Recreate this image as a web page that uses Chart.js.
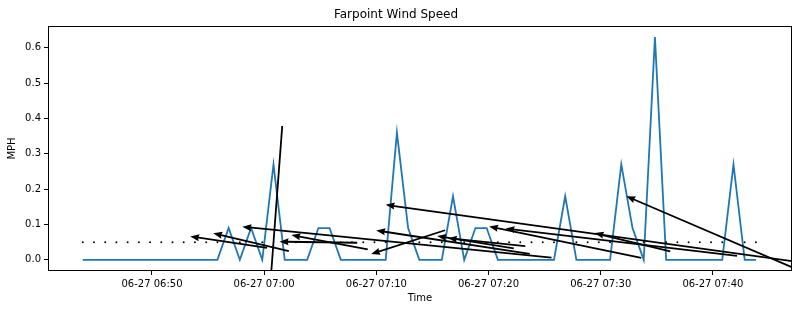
<!DOCTYPE html>
<html>
<head>
<meta charset="utf-8">
<script src="https://cdn.jsdelivr.net/npm/chart.js@4/dist/chart.umd.min.js"></script>
<style>
  body { margin: 0; background: #fff; }
</style>
</head>
<body>
<canvas id="myChart" width="799" height="311"></canvas>
<script>
// one reading a minute, 06-27
const times = [
    '06:43:50', '06:44:50', '06:45:50', '06:46:50', '06:47:50', '06:48:50', '06:49:50', '06:50:50',
    '06:51:50', '06:52:50', '06:53:50', '06:54:50', '06:55:50', '06:56:50', '06:57:50', '06:58:50',
    '06:59:50', '07:00:50', '07:01:50', '07:02:50', '07:03:50', '07:04:50', '07:05:50', '07:06:50',
    '07:07:50', '07:08:50', '07:09:50', '07:10:50', '07:11:50', '07:12:50', '07:13:50', '07:14:50',
    '07:15:50', '07:16:50', '07:17:50', '07:18:50', '07:19:50', '07:20:50', '07:21:50', '07:22:50',
    '07:23:50', '07:24:50', '07:25:50', '07:26:50', '07:27:50', '07:28:50', '07:29:50', '07:30:50',
    '07:31:50', '07:32:50', '07:33:50', '07:34:50', '07:35:50', '07:36:50', '07:37:50', '07:38:50',
    '07:39:50', '07:40:50', '07:41:50', '07:42:50', '07:43:50'
];

const windSpeed = [
    0, 0, 0, 0, 0, 0, 0, 0,
    0, 0, 0, 0, 0, 0.09, 0, 0.09,
    0, 0.27, 0, 0, 0, 0.09, 0.09, 0,
    0, 0, 0, 0, 0.36, 0.09, 0, 0,
    0, 0.18, 0, 0.09, 0.09, 0, 0, 0,
    0, 0, 0, 0.18, 0, 0, 0, 0,
    0.27, 0.09, 0, 0.63, 0, 0, 0, 0,
    0, 0, 0.27, 0, 0
];

// arrow direction in degrees (counter-clockwise from east), null when calm
const windDir = [
    null, null, null, null, null, null, null, null,
    null, null, null, null, null, 171.5, null, 166.6,
    null, 265.7, null, null, null, 179.2, 169.4, null,
    null, null, null, null, 174.3, 197.9, null, null,
    null, 171.3, null, 170.7, 174.2, null, null, null,
    null, null, null, 168.3, null, null, null, null,
    173.3, 166.5, null, 172.1, null, null, null, null,
    null, null, 156.8, null, null
];

const arrowLevel = 0.05;
const xTicks = ['06:50', '07:00', '07:10', '07:20', '07:30', '07:40'];
const yTicks = [0, 0.1, 0.2, 0.3, 0.4, 0.5, 0.6];

function toMin(t) {
    let p = t.split(':').map(Number);
    return (p[0] - 6) * 60 + p[1] + (p[2] || 0) / 60;
}

const font = { family: 'DejaVu Sans', size: 10 };

// quiver-like arrows, centred on each reading
const quiver = {
    id: 'quiver',
    afterDatasetsDraw(chart) {
        let ctx = chart.ctx;
        let area = chart.chartArea;
        let xs = chart.scales.x;
        let ys = chart.scales.y;
        ctx.save();
        ctx.beginPath();
        ctx.rect(area.left, area.top, area.right - area.left, area.bottom - area.top);
        ctx.clip();
        ctx.fillStyle = '#000';
        ctx.strokeStyle = '#000';
        times.forEach((t, i) => {
            let cx = xs.getPixelForValue(toMin(t));
            let cy = ys.getPixelForValue(arrowLevel);
            if (!windSpeed[i] || windDir[i] === null) {
                ctx.beginPath();
                ctx.arc(cx, cy, 0.95, 0, Math.PI * 2);
                ctx.fill();
                return;
            }
            let len = windSpeed[i] * 1.16 * area.width;
            let a = windDir[i] * Math.PI / 180;
            let ux = Math.cos(a), uy = -Math.sin(a);
            let tipX = cx + ux * len / 2, tipY = cy + uy * len / 2;
            let tailX = cx - ux * len / 2, tailY = cy - uy * len / 2;
            let headLen = 9, headW = 3.5;
            let bx = tipX - ux * headLen, by = tipY - uy * headLen;
            ctx.lineWidth = 1.8;
            ctx.beginPath();
            ctx.moveTo(tailX, tailY);
            ctx.lineTo(bx + ux * 2, by + uy * 2);
            ctx.stroke();
            ctx.beginPath();
            ctx.moveTo(tipX, tipY);
            ctx.lineTo(bx - uy * headW, by + ux * headW);
            ctx.lineTo(bx + ux * 1, by + uy * 1);
            ctx.lineTo(bx + uy * headW, by - ux * headW);
            ctx.closePath();
            ctx.fill();
        });
        ctx.restore();
    },
    afterDraw(chart) {
        // axes frame on all four sides
        let ctx = chart.ctx;
        let a = chart.chartArea;
        ctx.save();
        ctx.strokeStyle = '#000';
        ctx.lineWidth = 1;
        ctx.strokeRect(Math.round(a.left) + 0.5, Math.round(a.top) + 0.5,
            Math.round(a.right - a.left) - 1, Math.round(a.bottom - a.top) - 1);
        ctx.restore();
    }
};

let ctx = document.getElementById('myChart').getContext('2d');
let chart = new Chart(ctx, {
    type: 'line',
    data: {
        datasets: [{
            label: 'Wind Speed',
            data: times.map((t, i) => ({ x: toMin(t), y: windSpeed[i] })),
            borderColor: '#1f77b4',
            backgroundColor: '#1f77b4',
            borderWidth: 1.8,
            pointRadius: 0,
            tension: 0,
            fill: false
        }]
    },
    options: {
        responsive: false,
        animation: false,
        layout: { padding: { left: 0, right: 7, top: 2, bottom: 0 } },
        plugins: {
            legend: { display: false },
            tooltip: { enabled: false },
            title: {
                display: true,
                text: 'Farpoint Wind Speed',
                color: '#000',
                font: { family: 'DejaVu Sans', size: 12, weight: 'normal' },
                padding: { top: 6, bottom: 3.6 }
            }
        },
        scales: {
            x: {
                type: 'linear',
                min: toMin('06:40:44'),
                max: toMin('07:47:03'),
                afterBuildTicks: s => { s.ticks = xTicks.map(t => ({ value: toMin(t) })); },
                afterFit: s => { s.height = 40; },
                ticks: {
                    color: '#000',
                    font: font,
                    padding: 3,
                    maxRotation: 0,
                    callback: (v, i) => '06-27 ' + xTicks[i]
                },
                grid: { drawOnChartArea: false, drawTicks: true, tickLength: 4, color: '#000' },
                border: { display: false },
                title: { display: true, text: 'Time', color: '#000', font: font, padding: { top: 0, bottom: 7 } }
            },
            y: {
                min: -0.0315,
                max: 0.6615,
                afterBuildTicks: s => { s.ticks = yTicks.map(v => ({ value: v })); },
                afterFit: s => { s.width = 48; },
                ticks: {
                    color: '#000',
                    font: font,
                    padding: 3,
                    callback: v => v.toFixed(1)
                },
                grid: { drawOnChartArea: false, drawTicks: true, tickLength: 4, color: '#000' },
                border: { display: false },
                title: { display: true, text: 'MPH', color: '#000', font: font, padding: { top: 6, bottom: 0 } }
            }
        }
    },
    plugins: [quiver]
});
</script>
</body>
</html>
